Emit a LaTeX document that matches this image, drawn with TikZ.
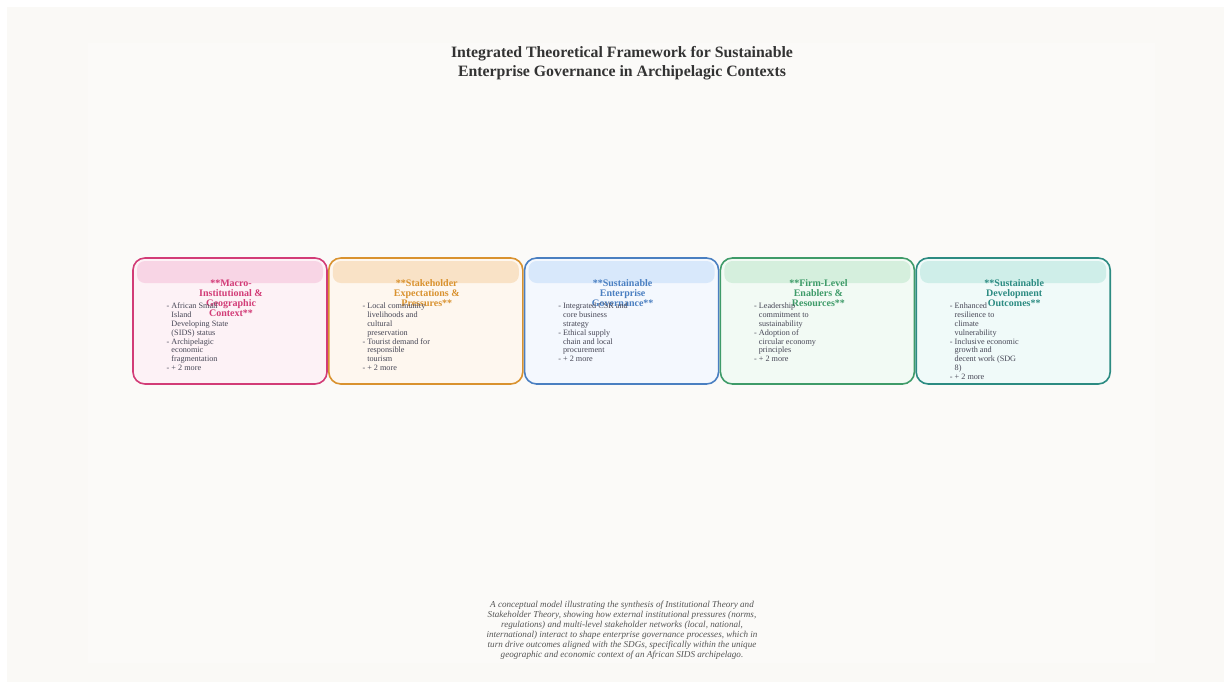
\documentclass[tikz,border=0pt]{standalone}
\usepackage{fontspec}
\setmainfont{Liberation Serif}
\usetikzlibrary{positioning}
\definecolor{PageCol}{HTML}{FAF9F6}
\definecolor{InnerCol}{HTML}{FBFAF8}
\definecolor{HeadCol}{HTML}{333333}
\definecolor{ItemCol}{HTML}{474756}
\definecolor{NoteCol}{HTML}{555555}
\definecolor{MacroCol}{HTML}{D23C77}
\definecolor{MacroFill}{HTML}{FDF2F6}
\definecolor{MacroBand}{HTML}{F8D5E5}
\definecolor{StakeCol}{HTML}{D9922F}
\definecolor{StakeFill}{HTML}{FEF7EF}
\definecolor{StakeBand}{HTML}{F9E2C6}
\definecolor{GovCol}{HTML}{4A7FC1}
\definecolor{GovFill}{HTML}{F4F8FE}
\definecolor{GovBand}{HTML}{D8E8FB}
\definecolor{FirmCol}{HTML}{3F9B69}
\definecolor{FirmFill}{HTML}{F2FAF4}
\definecolor{FirmBand}{HTML}{D5EFDD}
\definecolor{OutcCol}{HTML}{2C8B82}
\definecolor{OutcFill}{HTML}{F0FAF9}
\definecolor{OutcBand}{HTML}{CFEEE9}
\newcommand{\contd}{\hphantom{- }}

\begin{document}
\begin{tikzpicture}[x=1pt,y=-1pt,
    panel/.style={draw,line width=1.6pt,rounded corners=12pt,minimum width=194pt,
        minimum height=126pt,inner sep=0pt,outer sep=0pt},
    band/.style={rounded corners=8pt,minimum width=186pt,minimum height=22pt,inner sep=0pt},
    paneltitle/.style={anchor=north,align=center,inner sep=0pt,
        font=\bfseries\fontsize{10}{10}\selectfont},
    items/.style={anchor=north west,align=left,inner sep=0pt,text=ItemCol,
        font=\fontsize{8.2}{8.8}\selectfont}]
            % page and backdrop
            \useasboundingbox[fill=white] (0,0) rectangle (1231,689);
            \fill[PageCol] (7,7) rectangle (1224,682);
            \fill[InnerCol] (88,43) rectangle (1155,663);

            \node[anchor=north,align=center,inner sep=0pt,text=HeadCol,
                font=\bfseries\fontsize{15.8}{19}\selectfont] (heading) at (622,46.5)
                {Integrated Theoretical Framework for Sustainable\\Enterprise Governance in Archipelagic Contexts};

            % the five panels
            \node[panel,draw=MacroCol,fill=MacroFill] (macro) at (230,321) {};
            \node[panel,draw=StakeCol,fill=StakeFill] (stake) at (425.8,321) {};
            \node[panel,draw=GovCol,fill=GovFill] (gov) at (621.6,321) {};
            \node[panel,draw=FirmCol,fill=FirmFill] (firm) at (817.4,321) {};
            \node[panel,draw=OutcCol,fill=OutcFill] (outc) at (1013.2,321) {};

            \node[band,fill=MacroBand] (macroband) at (230,272) {};
            \node[band,fill=StakeBand] (stakeband) at (425.8,272) {};
            \node[band,fill=GovBand] (govband) at (621.6,272) {};
            \node[band,fill=FirmBand] (firmband) at (817.4,272) {};
            \node[band,fill=OutcBand] (outcband) at (1013.2,272) {};

            \node[paneltitle,text=MacroCol] (macrotitle) at (231,279.5) {**Macro-\\Institutional \&\\Geographic\\Context**};
            \node[paneltitle,text=StakeCol] (staketitle) at (426.8,279.5) {**Stakeholder\\Expectations \&\\Pressures**};
            \node[paneltitle,text=GovCol] (govtitle) at (622.6,279.5) {**Sustainable\\Enterprise\\Governance**};
            \node[paneltitle,text=FirmCol] (firmtitle) at (818.4,279.5) {**Firm-Level\\Enablers \&\\Resources**};
            \node[paneltitle,text=OutcCol] (outctitle) at (1014.2,279.5) {**Sustainable\\Development\\Outcomes**};

            \node[items] (macroitems) at (166.5,303) {- African Small\\\contd Island\\\contd Developing State\\\contd (SIDS) status\\- Archipelagic\\\contd economic\\\contd fragmentation\\- + 2 more};
            \node[items] (stakeitems) at (362.3,303) {- Local community\\\contd livelihoods and\\\contd cultural\\\contd preservation\\- Tourist demand for\\\contd responsible\\\contd tourism\\- + 2 more};
            \node[items] (govitems) at (558.1,303) {- Integrated CSR and\\\contd core business\\\contd strategy\\- Ethical supply\\\contd chain and local\\\contd procurement\\- + 2 more};
            \node[items] (firmitems) at (753.9,303) {- Leadership\\\contd commitment to\\\contd sustainability\\- Adoption of\\\contd circular economy\\\contd principles\\- + 2 more};
            \node[items] (outcitems) at (949.7,303) {- Enhanced\\\contd resilience to\\\contd climate\\\contd vulnerability\\- Inclusive economic\\\contd growth and\\\contd decent work (SDG\\\contd 8)\\- + 2 more};

            % caption
            \node[anchor=north,align=center,inner sep=0pt,text=NoteCol,
                font=\itshape\fontsize{9.1}{10}\selectfont] (note) at (622,600.5)
                {A conceptual model illustrating the synthesis of Institutional Theory and\\
                 Stakeholder Theory, showing how external institutional pressures (norms,\\
                 regulations) and multi-level stakeholder networks (local, national,\\
                 international) interact to shape enterprise governance processes, which in\\
                 turn drive outcomes aligned with the SDGs, specifically within the unique\\
                 geographic and economic context of an African SIDS archipelago.};
        \end{tikzpicture}
\end{document}
